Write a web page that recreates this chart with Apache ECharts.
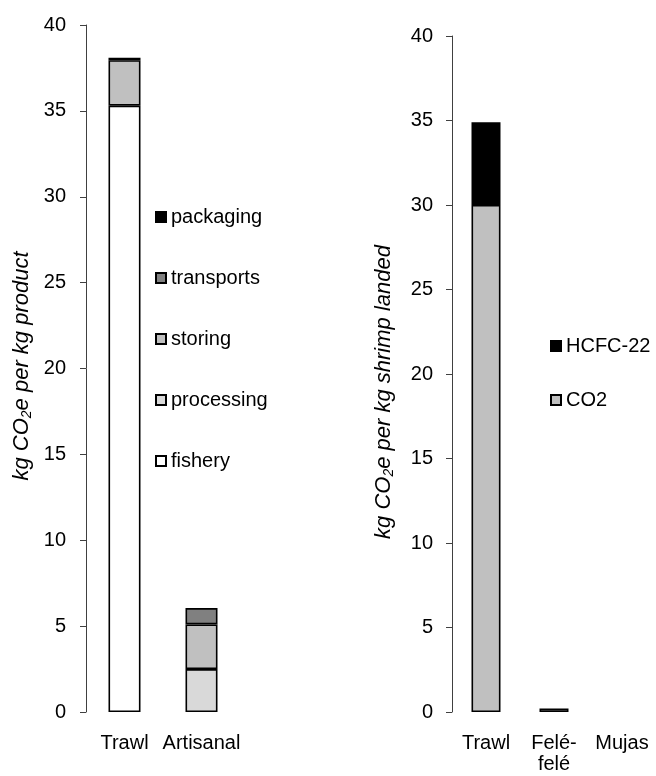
<!DOCTYPE html>
<html>
<head>
<meta charset="utf-8">
<script src="https://cdn.jsdelivr.net/npm/echarts@6/dist/echarts.min.js"></script>
<style>
html,body{margin:0;padding:0;background:#fff;}
#chart{width:656px;height:776px;}
</style>
</head>
<body>
<div id="chart"></div>
<script>
// ---- Data ----
var leftCategories = ['Trawl', 'Artisanal'];
var fishery    = [35.3, null];
var processing = [null, 2.5];
var storing    = [2.65, 2.6];
var transports = [null, 0.95];
var packaging  = [0.15, null];

var rightCategories = ['Trawl', 'Felé-\nfelé', 'Mujas'];
var co2    = [30.0, 0.2, null];
var hcfc22 = [4.9, null, null];

var yTicks = [0, 5, 10, 15, 20, 25, 30, 35, 40];

// ---- Styles ----
var FONT = 'Liberation Sans, Arial, sans-serif';
var colors = {
  fishery: '#FFFFFF', processing: '#D9D9D9', storing: '#C0C0C0',
  transports: '#808080', packaging: '#000000', co2: '#C0C0C0', hcfc: '#000000'
};

function barSeries(name, data, color, xi, bw) {
  return {
    name: name, type: 'bar', stack: 's' + xi, xAxisIndex: xi, yAxisIndex: xi,
    data: data, barWidth: bw,
    itemStyle: { color: color, borderColor: '#000', borderWidth: 1.6 },
    emphasis: { disabled: true }
  };
}

var yAxisBase = function (gi, margin) {
  return {
    type: 'value', gridIndex: gi, min: yTicks[0], max: yTicks[yTicks.length - 1],
    interval: yTicks[1] - yTicks[0],
    axisLine: { show: true, lineStyle: { color: '#404040', width: 1 } },
    axisTick: { show: true, length: 6, lineStyle: { color: '#404040' } },
    splitLine: { show: false },
    axisLabel: { color: '#000', fontFamily: FONT, fontSize: 20, margin: margin }
  };
};

var titleRich = function (size) {
  return {
    i: { fontFamily: FONT, fontStyle: 'italic', fontSize: size, lineHeight: 24, fill: '#000' },
    s: { fontFamily: FONT, fontStyle: 'italic', fontSize: Math.round(size * 0.62), lineHeight: 9, verticalAlign: 'bottom', fill: '#000' }
  };
};

var chart = echarts.init(document.getElementById('chart'), null, { renderer: 'canvas' });
chart.setOption({
  backgroundColor: '#fff',
  animation: false,
  grid: [
    { left: 86, width: 154, top: 25, bottom: 64, containLabel: false },
    { left: 452, width: 204, top: 36, bottom: 64, containLabel: false }
  ],
  xAxis: [
    { type: 'category', gridIndex: 0, data: leftCategories,
      axisLine: { show: false }, axisTick: { show: false },
      axisLabel: { color: '#000', fontFamily: FONT, fontSize: 20, margin: 21, interval: 0, hideOverlap: false } },
    { type: 'category', gridIndex: 1, data: rightCategories,
      axisLine: { show: false }, axisTick: { show: false },
      axisLabel: { color: '#000', fontFamily: FONT, fontSize: 20, margin: 21, lineHeight: 21, interval: 0, hideOverlap: false } }
  ],
  yAxis: [ yAxisBase(0, 20), yAxisBase(1, 19) ],
  legend: [
    { orient: 'vertical', left: 155, top: 207, padding: 0, itemWidth: 10, itemHeight: 10, itemGap: 41,
      icon: 'rect', selectedMode: false,
      textStyle: { color: '#000', fontFamily: FONT, fontSize: 20, lineHeight: 20 },
      data: ['packaging', 'transports', 'storing', 'processing', 'fishery'] },
    { orient: 'vertical', left: 550, top: 336, padding: 0, itemWidth: 10, itemHeight: 10, itemGap: 34,
      icon: 'rect', selectedMode: false,
      textStyle: { color: '#000', fontFamily: FONT, fontSize: 20, lineHeight: 20 },
      data: ['HCFC-22', 'CO2'] }
  ],
  graphic: [
    { type: 'text', x: 22, y: 366, rotation: Math.PI / 2,
      style: { text: '{i|kg CO}{s|2}{i|e per kg product}', rich: titleRich(22), textAlign: 'center', textVerticalAlign: 'middle' } },
    { type: 'text', x: 384, y: 392, rotation: Math.PI / 2,
      style: { text: '{i|kg CO}{s|2}{i|e per kg shrimp landed}', rich: titleRich(22), textAlign: 'center', textVerticalAlign: 'middle' } }
  ],
  series: [
    barSeries('fishery', fishery, colors.fishery, 0, 32),
    barSeries('processing', processing, colors.processing, 0, 32),
    barSeries('storing', storing, colors.storing, 0, 32),
    barSeries('transports', transports, colors.transports, 0, 32),
    barSeries('packaging', packaging, colors.packaging, 0, 32),
    barSeries('CO2', co2, colors.co2, 1, 29),
    barSeries('HCFC-22', hcfc22, colors.hcfc, 1, 29)
  ]
});
</script>
</body>
</html>
